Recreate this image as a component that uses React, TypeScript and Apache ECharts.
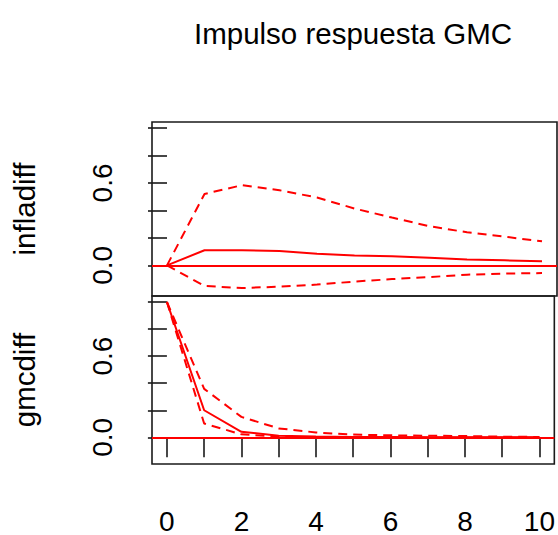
import React, { useEffect, useRef } from "react";
import * as echarts from "echarts";

// Horizon (steps after the shock)
const steps = [0, 1, 2, 3, 4, 5, 6, 7, 8, 9, 10];
const xTickLabels = [0, 2, 4, 6, 8, 10];
const yTicks = [0, 0.2, 0.4, 0.6, 0.8, 1.0];
const yTickLabels = [0, 0.6];

// Response of infladiff to a GMC impulse
const inflaIrf = [0, 0.11, 0.11, 0.105, 0.085, 0.072, 0.066, 0.055, 0.042, 0.037, 0.03];
const inflaUpper = [0, 0.52, 0.584, 0.547, 0.494, 0.414, 0.348, 0.285, 0.241, 0.209, 0.175];
const inflaLower = [0, -0.15, -0.165, -0.155, -0.14, -0.118, -0.1, -0.085, -0.068, -0.06, -0.056];

// Response of gmcdiff to a GMC impulse
const gmcIrf = [1.0, 0.2, 0.041, 0.012, 0.006, 0.003, 0.002, 0.001, 0.001, 0.0, 0.0];
const gmcUpper = [1.0, 0.358, 0.151, 0.066, 0.036, 0.02, 0.015, 0.012, 0.01, 0.005, 0.003];
const gmcLower = [1.0, 0.102, 0.022, 0.005, 0.001, 0.0, -0.001, -0.001, -0.001, -0.001, -0.001];

const panelNames = ["infladiff", "gmcdiff"];
const titleText = "Impulso respuesta GMC";

const FONT = "Liberation Sans, Arial, sans-serif";
const RED = "#ff0000";
const INK = "#1a1a1a";

function pairs(vals: number[]) {
  return steps.map((s, i) => [s, vals[i]]);
}

export default function App() {
  const ref = useRef<HTMLDivElement>(null);
  useEffect(() => {
    if (!ref.current) return;
    const chart = echarts.init(ref.current, null, { renderer: "svg" });

    const grids = [
      { left: 152, top: 122, width: 405, height: 174 },
      { left: 152, top: 296, width: 405, height: 170 },
    ].map((g) => ({ ...g, show: true, borderColor: INK, borderWidth: 1.6, backgroundColor: "transparent" }));

    const yMins = [-0.223, -0.197];
    const yMax = 1.044;

    const xAxis = [0, 1].map((i) => ({
      type: "value",
      gridIndex: i,
      min: -0.4,
      max: 10.4,
      axisLine: { show: false },
      splitLine: { show: false },
      axisTick: {
        show: i === 1,
        length: 20,
        customValues: steps,
        lineStyle: { color: INK, width: 1.6 },
      },
      axisLabel: {
        show: i === 1,
        customValues: xTickLabels,
        margin: 43,
        fontSize: 28,
        fontFamily: FONT,
        color: "#000",
      },
    }));

    const yAxis = [0, 1].map((i) => ({
      type: "value",
      gridIndex: i,
      min: yMins[i],
      max: yMax,
      name: panelNames[i],
      nameLocation: "middle",
      nameGap: 113,
      nameRotate: 90,
      nameTextStyle: { fontSize: 29.5, fontFamily: FONT, color: "#000" },
      axisLine: { show: false },
      splitLine: { show: false },
      axisTick: {
        show: true,
        length: 19,
        customValues: yTicks,
        lineStyle: { color: INK, width: 1.6 },
      },
      axisLabel: {
        customValues: yTickLabels,
        rotate: 90,
        margin: 36,
        fontSize: 28,
        fontFamily: FONT,
        color: "#000",
        formatter: (v: number) => v.toFixed(1),
      },
    }));

    const mk = (i: number, data: number[], dashed: boolean, withZero: boolean) => ({
      type: "line",
      xAxisIndex: i,
      yAxisIndex: i,
      data: pairs(data),
      symbol: "none",
      silent: true,
      lineStyle: { color: RED, width: 2, type: dashed ? [9, 6] : "solid" },
      ...(withZero
        ? {
            markLine: {
              silent: true,
              symbol: "none",
              label: { show: false },
              lineStyle: { color: RED, width: 2, type: "solid" },
              data: [{ yAxis: 0 }],
            },
          }
        : {}),
    });

    chart.setOption({
      animation: false,
      backgroundColor: "#fff",
      title: {
        text: titleText,
        left: 348,
        top: 13,
        textAlign: "center",
        textStyle: { fontSize: 29.5, fontWeight: "normal", fontFamily: FONT, color: "#000" },
      },
      grid: grids,
      xAxis,
      yAxis,
      series: [
        mk(0, inflaIrf, false, true),
        mk(0, inflaUpper, true, false),
        mk(0, inflaLower, true, false),
        mk(1, gmcIrf, false, true),
        mk(1, gmcUpper, true, false),
        mk(1, gmcLower, true, false),
      ],
    });

    return () => chart.dispose();
  }, []);

  return (
    <div
      ref={ref}
      style={{ position: "fixed", left: 0, top: 0, width: 558, height: 535, background: "#fff" }}
    />
  );
}
